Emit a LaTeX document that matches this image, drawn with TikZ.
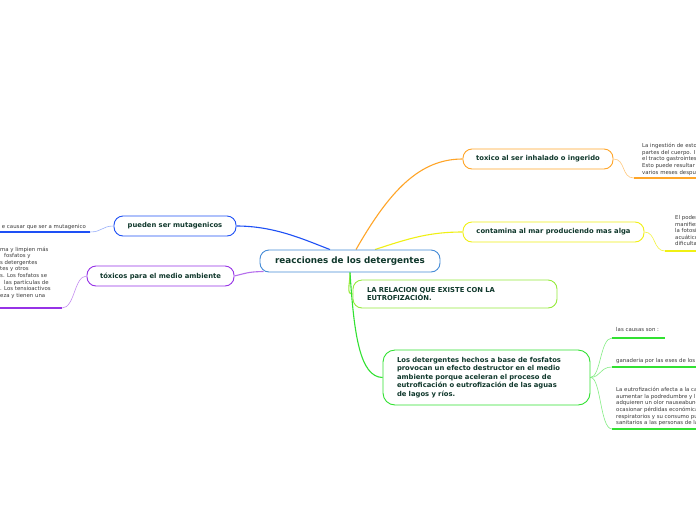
\documentclass[tikz,border=0pt]{standalone}
\usepackage{fontspec}
\setmainfont{DejaVu Sans}
\usetikzlibrary{calc,backgrounds}

\tikzset{
  topic/.style={draw, rounded corners=9pt, line width=0.9pt, fill=white, text=nodetext,
    inner sep=0pt, font=\bfseries\fontsize{6.8}{8.6}\selectfont},
  note/.style={inner sep=0pt, text=notetext, align=left, font=\fontsize{5.4}{6.6}\selectfont},
  branch/.style={line width=1.1pt},
  twig/.style={line width=0.6pt},
  noteline/.style={line width=1.3pt}
}

\begin{document}
\begin{tikzpicture}[x=1pt,y=-1pt]
        % Define colors for the map
        \definecolor{nodetext}{RGB}{16,56,44}   % dark green text
        \definecolor{notetext}{RGB}{60,60,60}   % grey note text
        \definecolor{centreblue}{RGB}{70,140,215}
        \definecolor{mutablue}{RGB}{30,80,245}
        \definecolor{toxpurple}{RGB}{150,50,230}
        \definecolor{toxorange}{RGB}{255,165,40}
        \definecolor{seayellow}{RGB}{240,240,20}
        \definecolor{relgreen}{RGB}{150,235,60}
        \definecolor{eutgreen}{RGB}{50,225,50}

        % Page frame
        \useasboundingbox (0,0) rectangle (696,520);

        % Central topic
        \node[topic, draw=centreblue, minimum width=180pt, minimum height=22pt,
          font=\bfseries\fontsize{8.8}{10}\selectfont] (centre) at (350,261) {reacciones de los detergentes};

        % Main topics
        \node[topic, draw=toxorange, minimum width=150pt, minimum height=20pt] (inhaled) at (538,159) {toxico al ser inhalado o ingerido};
        \node[topic, draw=seayellow, minimum width=181pt, minimum height=20pt] (sea) at (553.5,232) {contamina al mar produciendo mas alga};
        \node[topic, draw=relgreen, minimum height=28pt, text width=176pt, inner xsep=14pt, align=left] (relation) at (455,294)
          {LA RELACION QUE EXISTE CON LA\\EUTROFIZACIÓN.};
        \node[topic, draw=eutgreen, rounded corners=12pt, minimum height=55pt, text width=179pt, inner xsep=14pt, align=left] (phosphate) at (486.5,377.5)
          {Los detergentes hechos a base de fosfatos\\provocan un efecto destructor en el medio\\ambiente porque aceleran el proceso de\\eutroficación o eutrofización de las aguas\\de lagos y ríos.};
        \node[topic, draw=mutablue, minimum width=122pt, minimum height=20pt] (mutagen) at (175,226) {pueden ser mutagenicos};
        \node[topic, draw=toxpurple, minimum width=147pt, minimum height=20pt] (harmful) at (160.5,276) {tóxicos para el medio ambiente};

        % Ends of the note lines
        \coordinate (mutagenend) at (90,232);
        \coordinate (mutagenedge) at (-5,232);
        \coordinate (harmfulend) at (62,308);
        \coordinate (harmfuledge) at (-5,308);
        \coordinate (inhaledend) at (634,178);
        \coordinate (inhalededge) at (700,178);
        \coordinate (seaend) at (665,251);
        \coordinate (seaedge) at (700,251);
        \coordinate (causeend) at (612,338);
        \coordinate (causeedge) at (665,338);
        \coordinate (farmend) at (612,367);
        \coordinate (farmedge) at (700,367);
        \coordinate (effectend) at (612,429);
        \coordinate (effectedge) at (700,429);

        % Notes
        \node[note, anchor=base east] (mutagentext) at (86,228) {e causar que ser a mutagenico};
        \node[note, anchor=north west] (harmfultext) at (0,246.5)
          {ma y limpien más\\\hspace*{4pt}fosfatos y\\s detergentes\\tes y otros\\s. Los fosfatos se\\\hspace*{4pt}las partículas de\\. Los tensioactivos\\eza y tienen una};
        \node[note, anchor=north west] (inhaledtext) at (642,143.2)
          {La ingestión de esto\\partes del cuerpo. I\\el tracto gastrointes\\Esto puede resultar\\varios meses despué};
        \node[note, anchor=north west] (seatext) at (675,215.2)
          {El poder\\manifiest\\la fotosín\\acuático\\dificulta};
        \node[note, anchor=base west] (causetext) at (616,331.5) {las causas son :};
        \node[note, anchor=base west] (farmtext) at (616,362.5) {ganaderia por las eses de los};
        \node[note, anchor=north west] (effecttext) at (616,387.2)
          {La eutrofización afecta a la ca\\aumentar la podredumbre y l\\adquieren un olor nauseabund\\ocasionar pérdidas económica\\respiratorios y su consumo pu\\sanitarios a las personas de la};

        \begin{pgfonlayer}{background}
        % White page
        \fill[white] (0,0) rectangle (696,520);

        % Branches from the central topic
        \draw[branch, mutablue] ($(centre.north)+(-20,0)$) .. controls (305,240) and (275,226) .. (mutagen.east);
        \draw[branch, toxpurple!70] ($(centre.south west)+(4,-1)$) .. controls (250,272) .. (harmful.east);
        \draw[branch, toxorange] ($(centre.north)+(6,0)$) .. controls (390,190) and (420,159) .. (inhaled.west);
        \draw[branch, seayellow] ($(centre.north)+(25,0)$) .. controls (410,238) and (430,232) .. (sea.west);
        \draw[branch, relgreen] (centre.south) .. controls (350,285) and (346,294) .. (relation.west);
        \draw[branch, eutgreen] (centre.south) .. controls (354,335) and (360,377) .. (phosphate.west);

        % Twigs to the notes
        \draw[twig, mutablue!45] (mutagen.west) .. controls (102,226) and (102,232) .. (mutagenend);
        \draw[twig, toxpurple!55] (harmful.west) .. controls (74,276) and (75,308) .. (harmfulend);
        \draw[twig, toxorange!60] (inhaled.east) .. controls (626,159) and (621,178) .. (inhaledend);
        \draw[twig, seayellow!80] (sea.east) .. controls (656,232) and (653,251) .. (seaend);
        \draw[twig, eutgreen!60] (phosphate.east) .. controls (601,377) and (600,338) .. (causeend);
        \draw[twig, eutgreen!60] (phosphate.east) .. controls (601,377) and (600,367) .. (farmend);
        \draw[twig, eutgreen!60] (phosphate.east) .. controls (601,377) and (600,429) .. (effectend);

        % Lines under the notes
        \draw[noteline, mutablue] (mutagenedge) -- (mutagenend);
        \draw[noteline, toxpurple] (harmfuledge) -- (harmfulend);
        \draw[noteline, toxorange] (inhaledend) -- (inhalededge);
        \draw[noteline, seayellow] (seaend) -- (seaedge);
        \draw[noteline, eutgreen] (causeend) -- (causeedge);
        \draw[noteline, eutgreen] (farmend) -- (farmedge);
        \draw[noteline, eutgreen] (effectend) -- (effectedge);
        \end{pgfonlayer}
\end{tikzpicture}
\end{document}
